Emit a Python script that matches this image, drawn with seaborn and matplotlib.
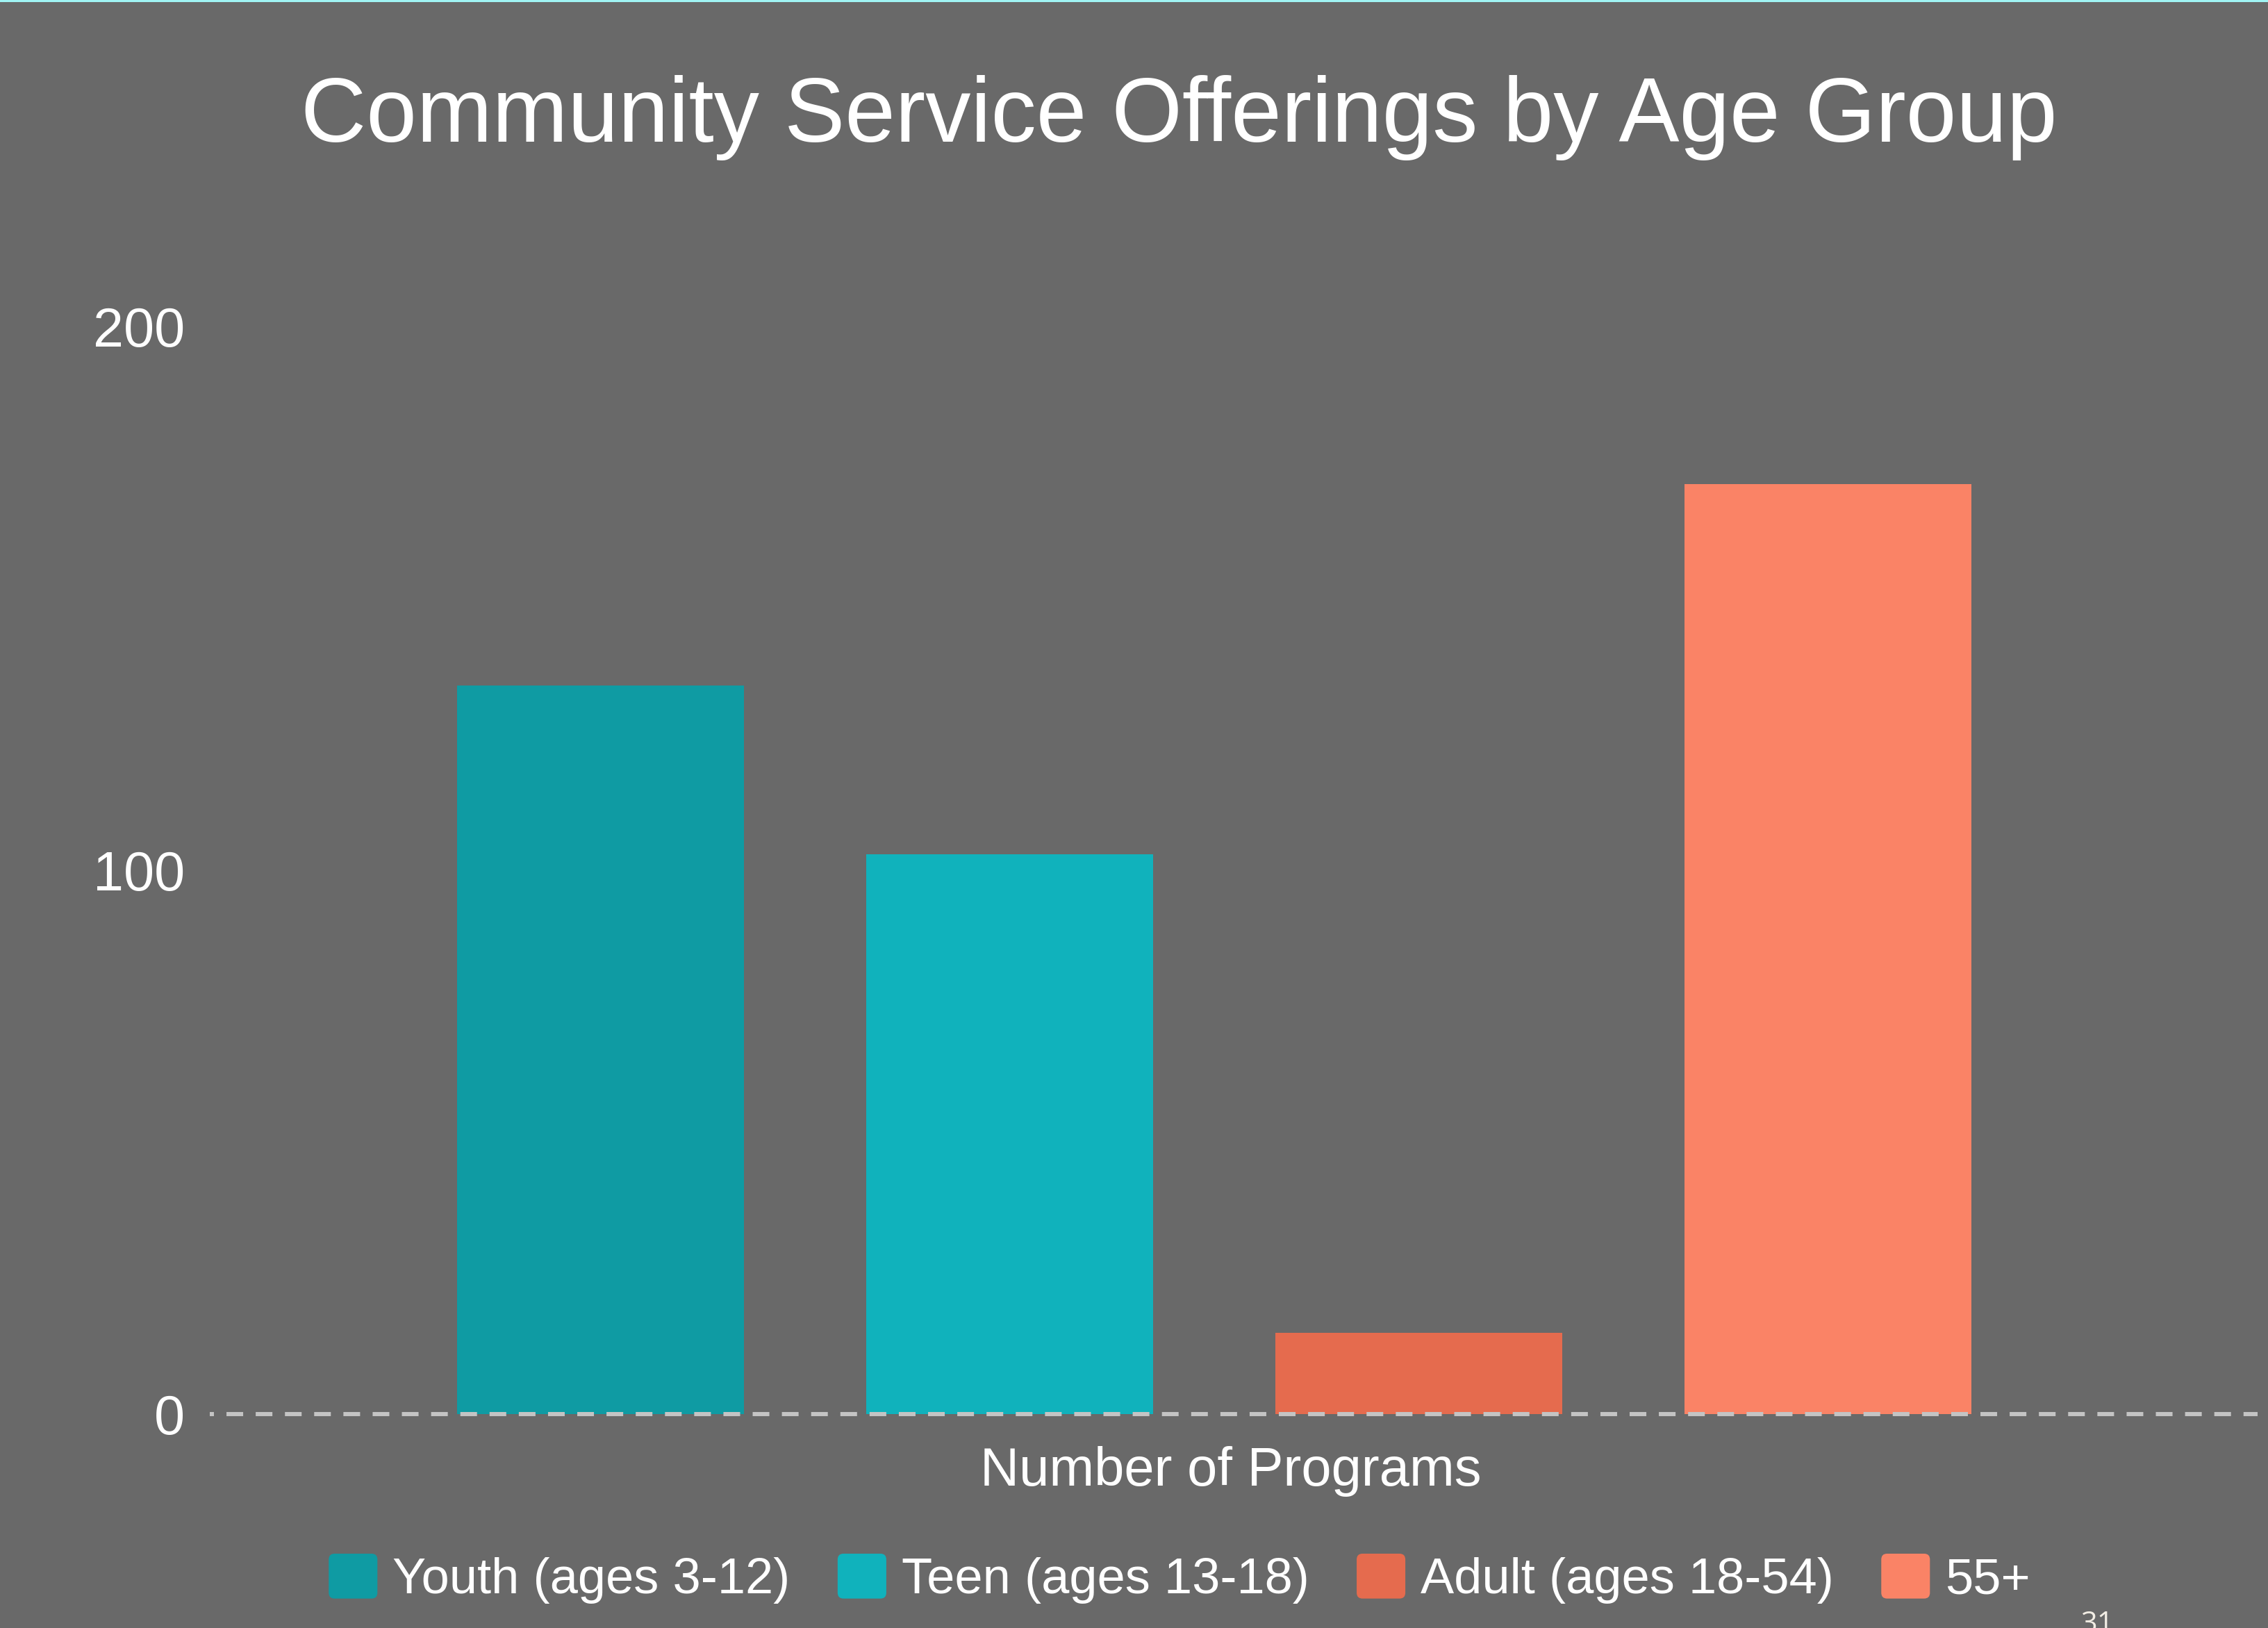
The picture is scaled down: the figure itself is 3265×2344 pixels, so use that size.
import matplotlib
matplotlib.use("Agg")
import matplotlib.pyplot as plt
from matplotlib.patches import Rectangle, FancyBboxPatch
from matplotlib.legend_handler import HandlerPatch
import seaborn as sns
import pandas as pd

# Data
categories = ["Youth (ages 3-12)", "Teen (ages 13-18)", "Adult (ages 18-54)", "55+"]
programs = [134, 103, 15, 171]
colors = ["#0F9BA3", "#10B2BC", "#E56B4E", "#FA8366"]
y_ticks = [0, 100, 200]

BG = "#696969"
W, H = 3265, 2344

sns.set_style("dark", {"axes.facecolor": BG, "figure.facecolor": BG})
plt.rcParams["font.family"] = ["Liberation Sans", "DejaVu Sans"]
plt.rcParams["lines.scale_dashes"] = False

fig = plt.figure(figsize=(W / 100, H / 100), dpi=100, facecolor=BG)

# plot area in pixel coordinates
left, right, bottom, top = 302, 3250, 2036, 470
ax = fig.add_axes([left / W, (H - bottom) / H, (right - left) / W, (bottom - top) / H])
ax.set_facecolor(BG)

df = pd.DataFrame({"group": categories, "programs": programs})
sns.barplot(data=df, x="group", y="programs", hue="group", palette=colors,
            width=0.7, dodge=False, legend=False, ax=ax, saturation=1,
            edgecolor="none", linewidth=0)

ax.set_xlim(-0.955, 4.05)
ax.set_ylim(0, 200)
ax.set_yticks(y_ticks)
ax.set_yticklabels([str(t) for t in y_ticks], fontsize=57, color="white")
ax.tick_params(axis="y", length=0, pad=26)
ax.set_xticks([])
ax.grid(False)
for s in ax.spines.values():
    s.set_visible(False)

# dashed baseline
ax.axhline(0, color="#C4C4C4", lw=4.3, zorder=5, clip_on=False,
           linestyle=(13, (17.3, 13.0)))

ax.set_ylabel("")
ax.set_xlabel("Number of Programs", fontsize=56, color="white")
ax.xaxis.label.set_va("baseline")
ax.xaxis.set_label_coords(0.4986, (bottom - 2139) / (bottom - top))

# title
fig.text(1697 / W, 1 - 204 / H, "Community Service Offerings by Age Group",
         ha="center", va="baseline", fontsize=94, color="white")


class RoundedHandler(HandlerPatch):
    def create_artists(self, legend, orig_handle, xdescent, ydescent,
                       width, height, fontsize, trans):
        p = FancyBboxPatch((-xdescent, -ydescent), width, height,
                           boxstyle="round,pad=0,rounding_size=6",
                           facecolor=orig_handle.get_facecolor(),
                           edgecolor="none", transform=trans)
        return [p]


handles = [Rectangle((0, 0), 1, 1, facecolor=c) for c in colors]
leg = fig.legend(handles, categories, loc="center",
                 bbox_to_anchor=(1698 / W, 1 - 2273 / H), ncol=4,
                 frameon=False, fontsize=52, labelcolor="white",
                 handlelength=0.97, handleheight=1.0, handletextpad=0.3,
                 columnspacing=0.95, borderpad=0,
                 handler_map={Rectangle: RoundedHandler()})

# top accent line
fig.add_artist(Rectangle((0, 1 - 3 / H), 1, 3 / H, transform=fig.transFigure,
                         facecolor="#A0F4F4", edgecolor="none"))

# page number
fig.text(2995 / W, 1 - 2318 / H, "31", ha="left", va="top", fontsize=30,
         color="#F2EDE4", family=["Open Sans", "DejaVu Sans"])

fig.savefig("out.png", dpi=100, facecolor=BG)
